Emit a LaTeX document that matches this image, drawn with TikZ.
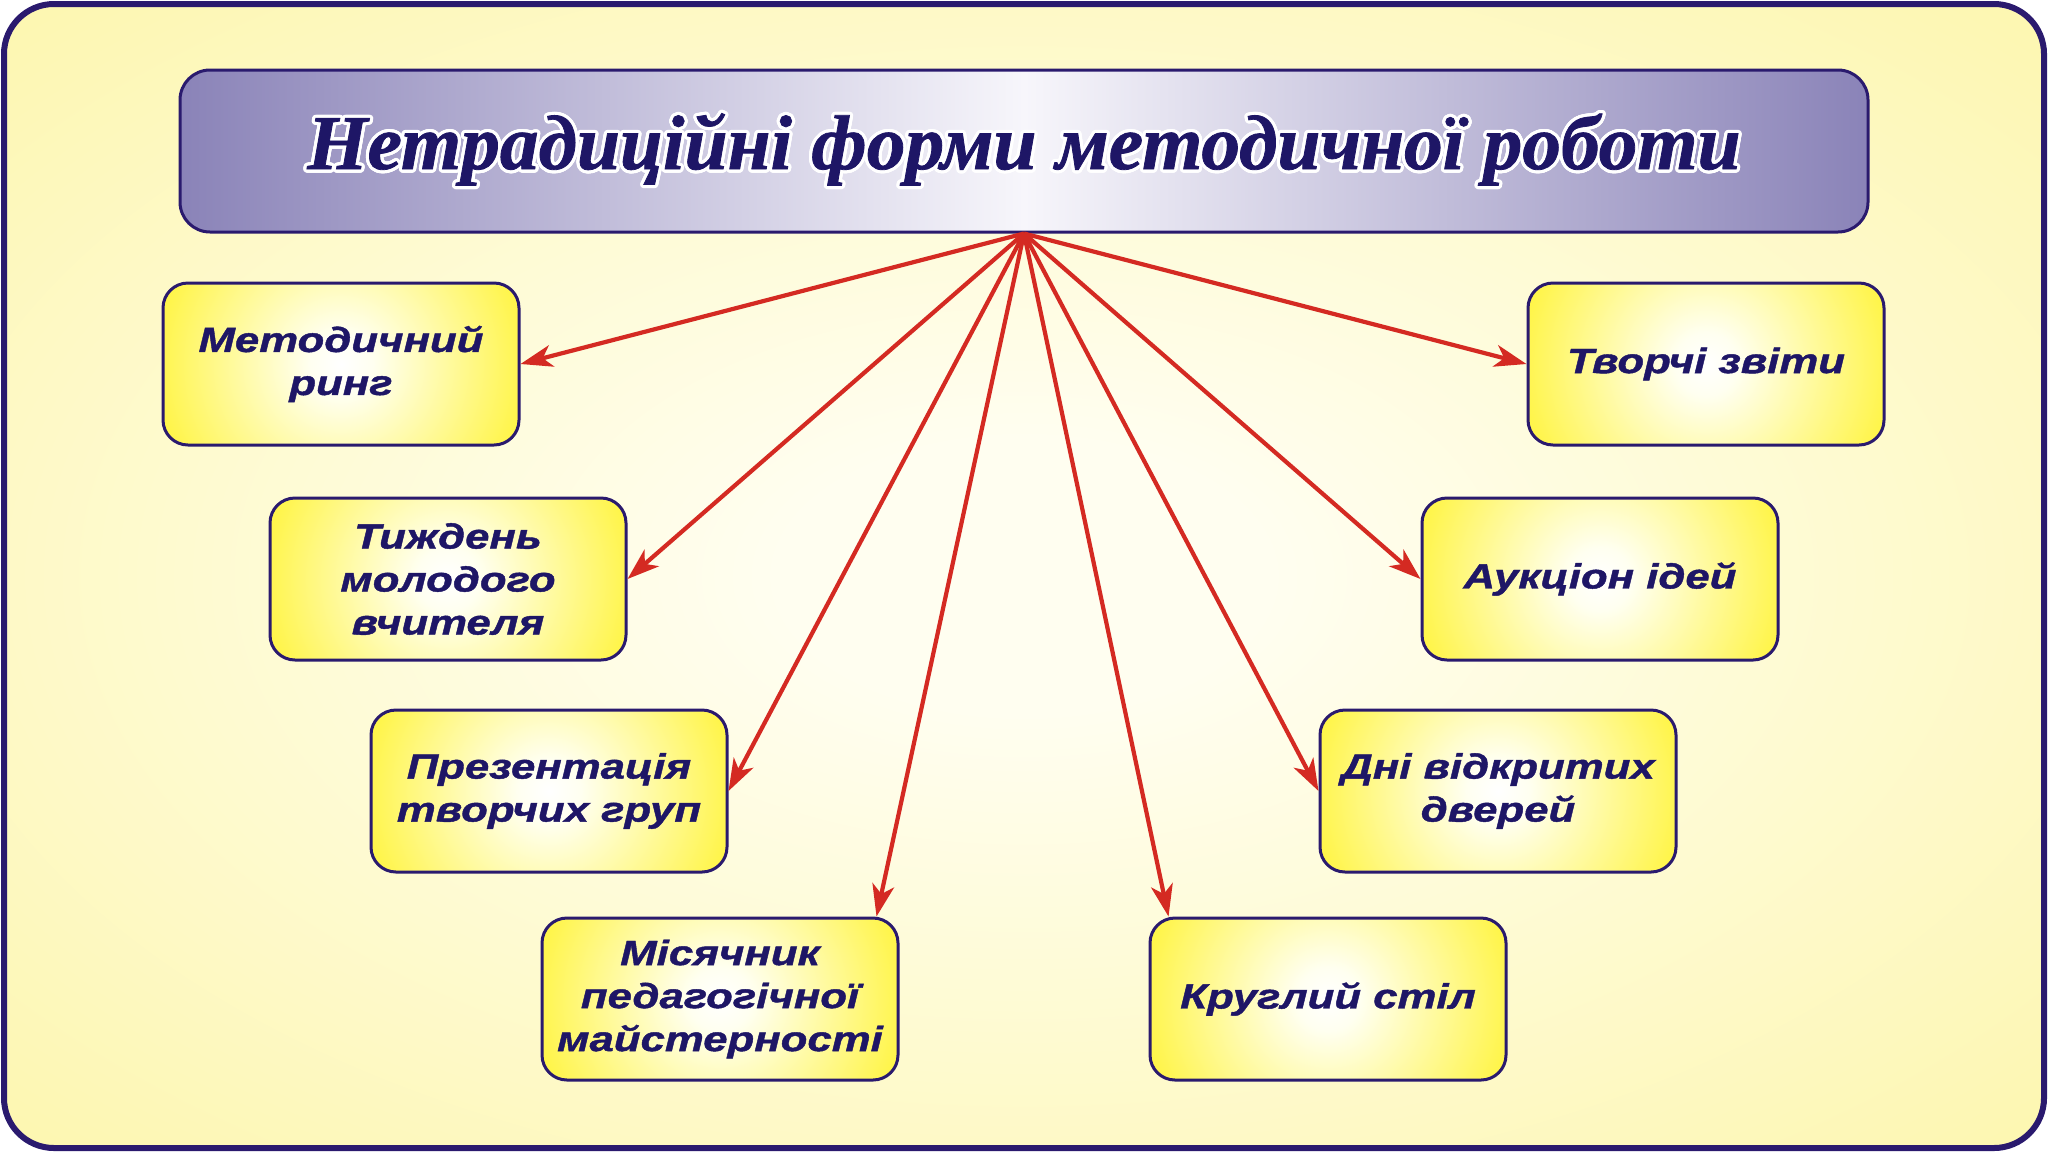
\documentclass[tikz,border=0pt]{standalone}
\usepackage{fontspec}
\setmainfont{Liberation Serif}
\newfontfamily\boxfont[FakeStretch=1.25,FakeBold=1.2]{Liberation Sans}
\newfontfamily\titlefont[FakeBold=1]{Liberation Serif}
\usepackage{contour}
\contourlength{1.6pt}
\contournumber{24}
\usetikzlibrary{arrows.meta,calc}

\definecolor{framecol}{HTML}{2A1A6E}
\definecolor{ink}{HTML}{1E1666}
\definecolor{arrowred}{HTML}{D42A22}
\definecolor{bgin}{HTML}{FFFEF0}
\definecolor{bgout}{HTML}{FCF394}
\definecolor{boxin}{HTML}{FFFFF0}
\definecolor{boxout}{HTML}{FFF000}
\definecolor{titleside}{HTML}{8A83B8}
\definecolor{titlemid}{HTML}{F7F6FB}

\pgfdeclareradialshading{bgshade}{\pgfpoint{0bp}{0bp}}{color(0bp)=(bgin); color(6bp)=(bgin); color(48bp)=(bgout); color(72bp)=(bgout)}
\pgfdeclareradialshading{boxshade}{\pgfpoint{0bp}{0bp}}{color(0bp)=(white); color(4bp)=(boxin); color(32bp)=(boxout); color(50bp)=(boxout)}

\tikzset{
  titlebox/.style={draw=framecol, line width=1.5pt, rounded corners=15pt,
    minimum width=844pt, minimum height=81pt, inner sep=0pt,
    left color=titleside, right color=titleside, middle color=titlemid,
    text=ink, font=\titlefont\bfseries\itshape\fontsize{38.7}{40}\selectfont},
  formbox/.style={draw=framecol, line width=1.5pt, rounded corners=12.5pt,
    minimum width=178pt, minimum height=81pt, inner sep=0pt, fill=boxout,
    path picture={\shade[shading=boxshade] (path picture bounding box.center) circle (99pt);},
    text=ink, align=center,
    font=\boxfont\bfseries\itshape\fontsize{17.5}{21.5}\selectfont},
  arr/.style={draw=arrowred, line width=2.1pt,
    -{Stealth[length=16pt,width=11pt,inset=4.5pt]}}
}

\begin{document}
\begin{tikzpicture}[x=0.5pt,y=-0.5pt]
\useasboundingbox (0,0) rectangle (2048,1152);
\path[draw=framecol, line width=3pt, rounded corners=25pt, shade, shading=bgshade]
  (4,4) rectangle (2044,1148);

\node[titlebox] (title) at (1024,151) {\contour{white}{Нетрадиційні форми методичної роботи}};

\node[formbox] (b1) at (341,364) {Методичний\\ринг};
\node[formbox] (b2) at (448,579) {Тиждень\\молодого\\вчителя};
\node[formbox] (b3) at (549,791) {Презентація\\творчих груп};
\node[formbox] (b4) at (720,999) {Місячник\\педагогічної\\майстерності};
\node[formbox] (b5) at (1706,364) {Творчі звіти};
\node[formbox] (b6) at (1600,579) {Аукціон ідей};
\node[formbox] (b7) at (1498,791) {Дні відкритих\\дверей};
\node[formbox] (b8) at (1328,999) {Круглий стіл};

\coordinate (t4) at ([xshift=-11.5pt]b4.north east);
\coordinate (t8) at ([xshift=10pt]b8.north west);

\draw[arr] (title.south) -- (b1.east);
\draw[arr] (title.south) -- (b2.east);
\draw[arr] (title.south) -- (b3.east);
\draw[arr] (title.south) -- (t4);
\draw[arr] (title.south) -- (b5.west);
\draw[arr] (title.south) -- (b6.west);
\draw[arr] (title.south) -- (b7.west);
\draw[arr] (title.south) -- (t8);
\end{tikzpicture}
\end{document}
